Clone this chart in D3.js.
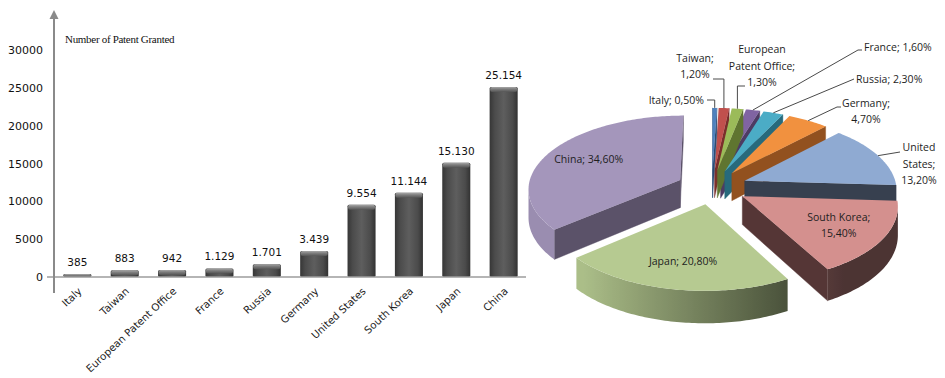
<!DOCTYPE html>
<html>
<head>
<meta charset="utf-8">
<script src="https://cdn.jsdelivr.net/npm/d3@7"></script>
<style>
  body { margin: 0; background: #fff; }
  svg { display: block; }
</style>
</head>
<body>
<svg id="chart" width="945" height="378"></svg>
<script>
// ---- data ----
const countries = ["Italy", "Taiwan", "European Patent Office", "France", "Russia",
                   "Germany", "United States", "South Korea", "Japan", "China"];
const patentsGranted = [385, 883, 942, 1129, 1701, 3439, 9554, 11144, 15130, 25154];
const yTicks = [0, 5000, 10000, 15000, 20000, 25000, 30000];
const yAxisTitle = "Number of Patent Granted";

const shareCountries = countries;
const sharePercent = [0.5, 1.2, 1.3, 1.6, 2.3, 4.7, 13.2, 15.4, 20.8, 34.6];

// ---- styles ----
const sliceTop  = ["#4f81bd", "#c0504d", "#9bbb59", "#8064a2", "#4bacc6",
                   "#f1913f", "#8faad2", "#d4908e", "#b6ca91", "#a496bb"];
const sliceSide = ["#2c4d75", "#7a2e2c", "#5f7530", "#4d3b63", "#276a7c",
                   "#92511f", "#37404f", "#553636", "#55633f", "#5b5269"];

const locale = d3.formatLocale({ decimal: ",", thousands: ".", grouping: [3], currency: ["", ""] });
const fmtCount = locale.format(",");
const fmtPct = v => locale.format(".2f")(v) + "%";

const svg = d3.select("#chart");
const defs = svg.append("defs");

// ================= bar chart =================
const y = d3.scaleLinear().domain([0, 30000]).range([277, 50.3]);
const x = d3.scaleBand().domain(countries).range([54, 527]).paddingInner(0.408).paddingOuter(0.197);

const barGrad = defs.append("linearGradient").attr("id", "barGrad")
  .attr("x1", "0").attr("x2", "1").attr("y1", "0").attr("y2", "0");
[[0, "#363636"], [0.18, "#4b4b4b"], [0.5, "#5e5e5e"], [0.82, "#4b4b4b"], [1, "#323232"]]
  .forEach(([o, c]) => barGrad.append("stop").attr("offset", o).attr("stop-color", c));
const capGrad = defs.append("linearGradient").attr("id", "capGrad")
  .attr("x1", "0").attr("x2", "0").attr("y1", "0").attr("y2", "1");
[[0, "#a8a8a8"], [0.45, "#7c7c7c"], [1, "#555555"]]
  .forEach(([o, c]) => capGrad.append("stop").attr("offset", o).attr("stop-color", c));

const bars = svg.append("g").attr("class", "bars");
const barG = bars.selectAll("g").data(countries.map((c, i) => ({ c, v: patentsGranted[i] })))
  .enter().append("g");
barG.append("rect")
  .attr("x", d => x(d.c)).attr("width", x.bandwidth())
  .attr("y", d => y(d.v)).attr("height", d => y(0) - y(d.v))
  .attr("rx", 1.5).attr("fill", "url(#barGrad)");
barG.append("rect")
  .attr("x", d => x(d.c) + 0.5).attr("width", x.bandwidth() - 1)
  .attr("y", d => y(d.v)).attr("height", d => Math.min(5, y(0) - y(d.v)))
  .attr("rx", 2).attr("fill", "url(#capGrad)");
barG.append("text")
  .attr("x", d => x(d.c) + x.bandwidth() / 2)
  .attr("y", d => y(d.v) - 8)
  .attr("text-anchor", "middle")
  .attr("font-family", "DejaVu Sans, Verdana, sans-serif")
  .attr("font-size", "10.5px").attr("fill", "#111")
  .text(d => fmtCount(d.v));

// baseline
svg.append("line").attr("x1", 47).attr("x2", 526).attr("y1", y(0)).attr("y2", y(0))
  .attr("stroke", "#9c9c9c").attr("stroke-width", 1.5);

// y axis with arrow
const yAxis = d3.axisLeft(y).tickValues(yTicks).tickSize(0).tickPadding(11).tickFormat(d3.format("d"));
const yg = svg.append("g").attr("transform", "translate(54,0)").call(yAxis);
yg.select(".domain").remove();
yg.selectAll("text").attr("font-family", "DejaVu Sans, Verdana, sans-serif")
  .attr("font-size", "11px").attr("fill", "#111");
svg.append("line").attr("x1", 54).attr("x2", 54).attr("y1", 17).attr("y2", 293)
  .attr("stroke", "#8a8a8a").attr("stroke-width", 2);
svg.append("path").attr("d", "M54,10 L58.5,19 L49.5,19 Z").attr("fill", "#8a8a8a");

svg.append("text").attr("x", 65).attr("y", 43)
  .attr("font-family", "Liberation Serif, Times New Roman, serif")
  .attr("font-size", "11px").attr("fill", "#111").attr("letter-spacing", "-0.3")
  .text(yAxisTitle);

// category labels
svg.append("g").selectAll("text").data(countries).enter().append("text")
  .attr("transform", d => `translate(${x(d) + x.bandwidth() / 2 + 5},292) rotate(-43)`)
  .attr("text-anchor", "end")
  .attr("font-family", "DejaVu Sans, Verdana, sans-serif")
  .attr("font-size", "10.3px").attr("fill", "#222")
  .text(d => d);

// ================= 3D exploded pie =================
const P = { cx: 712, cy: 187, R: 152, tilt: 0.48, depth: 28, explode: 35.4 };
P.D = P.R * 9;
// disk coordinates: u to the right, v away from the viewer
function proj(u, v, h = 0) {
  const s = P.D / (P.D + v);
  return [P.cx + u * s, P.cy - v * P.tilt * s + h * s];
}
const arcs = d3.pie().sort(null).value(d => d)(sharePercent);

function mul(color, f) {
  const c = d3.rgb(color);
  return d3.rgb(c.r * f, c.g * f, c.b * f).formatHex();
}
function facing(p, phi) {
  // camera sits in front at v = -D
  return (-p[0]) * Math.sin(phi) + (-P.D - p[1]) * Math.cos(phi) > 0;
}

const slices = arcs.map((a, i) => {
  const m = (a.startAngle + a.endAngle) / 2;
  const ou = P.explode * Math.sin(m), ov = P.explode * Math.cos(m);
  const n = Math.max(2, Math.ceil((a.endAngle - a.startAngle) / (Math.PI / 180)));
  const rim = d3.range(n + 1).map(k => {
    const t = a.startAngle + (a.endAngle - a.startAngle) * k / n;
    return [ou + P.R * Math.sin(t), ov + P.R * Math.cos(t), t];
  });
  const apex = [ou, ov];
  const cv = d3.mean([apex, ...rim], p => p[1]);
  return { i, a, m, apex, rim, cv };
});

const pieG = svg.append("g").attr("class", "pie");
const toPath = pts => "M" + pts.map(p => p[0].toFixed(2) + "," + p[1].toFixed(2)).join("L") + "Z";
function quad(p, q) {
  return toPath([proj(p[0], p[1]), proj(q[0], q[1]), proj(q[0], q[1], P.depth), proj(p[0], p[1], P.depth)]);
}

slices.slice().sort((a, b) => b.cv - a.cv).forEach(sl => {
  const g = pieG.append("g");
  const top = sliceTop[sl.i], side = sliceSide[sl.i];
  const a0 = sl.a.startAngle, a1 = sl.a.endAngle;
  const r0 = sl.rim[0], r1 = sl.rim[sl.rim.length - 1];
  // radial cut faces
  if (facing([(sl.apex[0] + r0[0]) / 2, (sl.apex[1] + r0[1]) / 2], a0 - Math.PI / 2))
    g.append("path").attr("d", quad(sl.apex, r0)).attr("fill", side).attr("stroke", side).attr("stroke-width", 0.4);
  if (facing([(sl.apex[0] + r1[0]) / 2, (sl.apex[1] + r1[1]) / 2], a1 + Math.PI / 2))
    g.append("path").attr("d", quad(r1, sl.apex)).attr("fill", side).attr("stroke", side).attr("stroke-width", 0.4);
  // outer curved wall: one path per visible run, shaded left-to-right by a gradient
  const vis = sl.rim.map((p, k) => k < sl.rim.length - 1 &&
    facing([(p[0] + sl.rim[k + 1][0]) / 2, (p[1] + sl.rim[k + 1][1]) / 2], (p[2] + sl.rim[k + 1][2]) / 2));
  let k = 0, run = 0;
  while (k < sl.rim.length - 1) {
    if (!vis[k]) { k++; continue; }
    const s0 = k;
    while (k < sl.rim.length - 1 && vis[k]) k++;
    const pts = sl.rim.slice(s0, k + 1);
    const topEdge = pts.map(p => proj(p[0], p[1]));
    const botEdge = pts.map(p => proj(p[0], p[1], P.depth)).reverse();
    const xs = topEdge.map(p => p[0]);
    const xMin = d3.min(xs), xMax = d3.max(xs);
    const id = `rim${sl.i}_${run++}`;
    const grad = defs.append("linearGradient").attr("id", id).attr("gradientUnits", "userSpaceOnUse")
      .attr("x1", xMin).attr("x2", Math.max(xMax, xMin + 0.01)).attr("y1", 0).attr("y2", 0);
    const stops = pts.map((p, j) => {
      const f = Math.max(0.36, Math.min(0.94, 0.62 - 0.45 * Math.sin(p[2])));
      return { o: (topEdge[j][0] - xMin) / Math.max(xMax - xMin, 0.01), c: mul(top, f) };
    }).sort((a, b) => a.o - b.o);
    stops.forEach(s => grad.append("stop").attr("offset", s.o).attr("stop-color", s.c));
    g.append("path").attr("d", toPath([...topEdge, ...botEdge])).attr("fill", `url(#${id})`);
  }
  // top face
  g.append("path").attr("d", toPath([proj(...sl.apex), ...sl.rim.map(p => proj(p[0], p[1]))]))
    .attr("fill", top);
});

// ---- pie labels ----
const labelFont = "Open Sans, Noto Sans, sans-serif";
const lineH = 16.3;
// wrapping groups (words per line) and placement of each label, relative to the pie centre
const labelLayout = [
  { groups: [3], pos: [-8, -87], anchor: "end", rise: -87, end: [-5, -87] },
  { groups: [1, 1], pos: [-17, -120.5], anchor: "middle", rise: -108, end: [1, -108] },
  { groups: [1, 2, 1], pos: [50, -121], anchor: "middle", rise: -101, end: [33, -101] },
  { groups: [2], pos: [152, -140], anchor: "start", to: [146, -137], end: [150, -137] },
  { groups: [2], pos: [144, -108], anchor: "start", to: [142, -108] },
  { groups: [1, 1], pos: [154, -76], anchor: "middle", to: [125, -80], end: [129, -80] },
  { groups: [1, 1, 1], pos: [207, -23], anchor: "middle", to: [188, -35] },
  { groups: [2, 1], inside: true },
  { groups: [3], inside: true },
  { groups: [3], inside: true }
];

const lblG = svg.append("g").attr("class", "pie-labels");
slices.forEach(sl => {
  const L = labelLayout[sl.i];
  const words = (shareCountries[sl.i] + "; " + fmtPct(sharePercent[sl.i])).split(" ");
  const lines = [];
  let w = 0;
  L.groups.forEach(n => { lines.push(words.slice(w, w + n).join(" ")); w += n; });
  let px, py;
  if (L.inside) {
    const r = 0.7 * P.R + P.explode;
    [px, py] = proj(r * Math.sin(sl.m), r * Math.cos(sl.m));
  } else {
    px = P.cx + L.pos[0]; py = P.cy + L.pos[1];
    const rr = P.R + P.explode;
    const start = proj(rr * Math.sin(sl.m), rr * Math.cos(sl.m));
    const pts = [start];
    if (L.rise !== undefined) pts.push([start[0], P.cy + L.rise]);
    if (L.to) pts.push([P.cx + L.to[0], P.cy + L.to[1]]);
    if (L.end) pts.push([P.cx + L.end[0], P.cy + L.end[1]]);
    lblG.append("path").attr("d", "M" + pts.map(p => p.join(",")).join("L"))
      .attr("fill", "none").attr("stroke", "#4a4a4a").attr("stroke-width", 1);
  }
  const t = lblG.append("text")
    .attr("font-family", labelFont).attr("font-size", "10.5px").attr("fill", "#1e1e1e")
    .attr("text-anchor", L.anchor || "middle");
  lines.forEach((ln, k) => {
    t.append("tspan").attr("x", px)
      .attr("y", py + (k - (lines.length - 1) / 2) * lineH)
      .attr("dy", "0.35em").text(ln);
  });
});
</script>
</body>
</html>
